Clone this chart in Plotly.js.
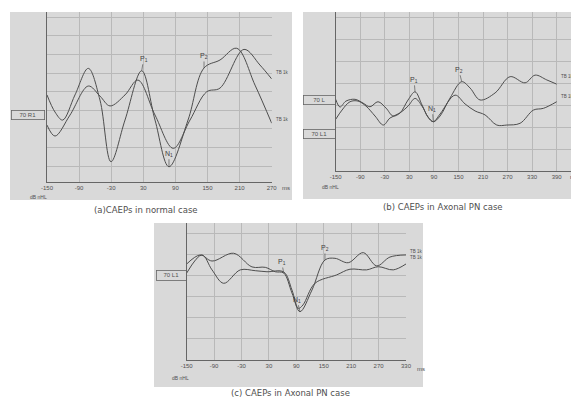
<!DOCTYPE html>
<html><head><meta charset="utf-8">
<script src="https://cdn.plot.ly/plotly-3.0.1.min.js"></script>
<style>html,body{margin:0;padding:0;background:#fff}#chart{width:571px;height:398px}</style>
</head><body><div id="chart"></div>
<script>
// ---- data (latency in ms, amplitude in grid units) ----
const aTicks = [-150,-90,-30,30,90,150,210,270];
const bTicks = [-150,-90,-30,30,90,150,210,270,330,390];
const cTicks = [-150,-90,-30,30,90,150,210,270,330];

const aX1 = [-150,-135,-120.7,-97.7,-72.8,-51,-30.4,-4.2,27,51.9,78,113.6,143.5,173.4,204.6,238.8,270];
const aY1 = [3.82,2.90,2.47,3.82,5.25,3.55,0.23,2.47,5.12,2.47,-0.04,2.47,5.27,5.70,6.33,4.35,2.30];
const aX2 = [-150,-135,-107,-72.8,-51,-32.2,-4.2,20,51.9,86,117.3,148.5,173.4,218.2,248,270];
const aY2 = [2.20,1.61,2.74,4.30,3.76,3.23,3.82,4.62,2.74,0.95,2.47,3.99,4.19,6.27,5.43,4.68];

const bX1 = [-150,-139.5,-124.8,-102.8,-83.3,-66.1,-46.6,-27,-9.9,7.2,26.8,43.9,61,75.7,88.6,105,129.5,158,178.5,202.8,239.5,276.2,312.8,337.3,365.9,390];
const bY1 = [3.26,2.91,3.18,3.26,3.09,2.92,3.15,2.86,2.50,2.64,3.23,3.60,3.0,2.45,2.24,2.5,3.32,4.06,3.77,3.23,3.55,4.29,4.01,4.36,4.14,3.95];
const bX2 = [-150,-134.6,-115,-95.5,-75.9,-53.9,-33.6,-17.2,7.2,26.8,43.9,61,75.7,88.6,105,141.7,166.1,190.6,215,243.6,268.1,300.6,333.1,357.6,390];
const bY2 = [2.35,2.77,3.15,3.18,2.95,2.50,2.09,2.41,2.64,2.95,3.30,2.95,2.45,2.24,2.59,3.45,3.05,2.73,2.55,2.09,2.09,2.17,2.77,2.85,3.15];

const cX1 = [-150,-120.2,-94.6,-47.2,-7.1,22,43.9,62.3,80.4,97.9,124.2,152.6,174.5,203.6,236.4,265.8,294.9,330];
const cY1 = [4.57,5.0,4.71,5.08,4.43,4.41,4.20,4.14,3.19,2.30,3.33,4.76,4.84,4.63,5.11,4.48,4.90,5.0];
const cX2 = [-150,-116.5,-94.6,-69,-32.7,0.1,25.7,62.3,80.4,94.2,104.5,130.7,178.2,207.3,243.9,269.3,302.1,330];
const cY2 = [4.14,5.0,4.29,3.65,4.29,4.25,4.20,4.19,3.33,2.46,2.62,3.65,4.05,4.32,4.29,4.44,4.29,4.57];

const panelLabels = ["70 R1","70 L","70 L1","70 L1"];
const traceLabel = "TB 1k";
const captions = ["(a)CAEPs in normal case","(b) CAEPs in Axonal PN case","(c) CAEPs in Axonal PN case"];
// peak markers: [label, series, index]
const aPeaks = [["P<sub>1</sub>",8],["N<sub>1</sub>",10],["P<sub>2</sub>",12]];
const bPeaks = [["P<sub>1</sub>",11],["N<sub>1</sub>",14],["P<sub>2</sub>",17]];
const cPeaks = [["P<sub>1</sub>",7],["N<sub>1</sub>",9],["P<sub>2</sub>",11]];

// ---- layout helpers ----
const W = 571, H = 398;
const px = x => x / W, py = y => 1 - y / H;
const LINE = '#4d4d4d', GRID = '#b9b9b9', BG = '#d9d9d9', TXT = '#505050';

function trace(x, y, xa, ya) {
  return {x, y, xaxis: xa, yaxis: ya, type: 'scatter', mode: 'lines',
    line: {color: LINE, width: 1, shape: 'spline', smoothing: 1}, hoverinfo: 'skip', showlegend: false};
}
const data = [
  trace(aX1, aY1, 'x', 'y'), trace(aX2, aY2, 'x', 'y'),
  trace(bX1, bY1, 'x2', 'y2'), trace(bX2, bY2, 'x2', 'y2'),
  trace(cX1, cY1, 'x3', 'y3'), trace(cX2, cY2, 'x3', 'y3')
];

function xax(domain, range, ticks) {
  return {domain, range, tickmode: 'array', tickvals: ticks, ticktext: ticks.map(String),
    showgrid: true, gridcolor: GRID, gridwidth: 1, zeroline: false, showline: true,
    linecolor: '#666', linewidth: 1, ticks: '', fixedrange: true,
    tickfont: {family: 'Liberation Sans, Arial, sans-serif', size: 6, color: TXT}};
}
function yax(domain, range, anchor) {
  return {domain, range, dtick: 1, tick0: 0, showgrid: true, gridcolor: GRID, gridwidth: 1,
    zeroline: false, showline: true, linecolor: '#666', linewidth: 1, showticklabels: false,
    ticks: '', anchor, fixedrange: true};
}

const shapes = [
  [10, 12, 292, 200], [303, 12, 571, 199], [154, 223, 423, 387]
].map(([x0, y0, x1, y1]) => ({type: 'rect', xref: 'paper', yref: 'paper', layer: 'below',
  x0: px(x0), x1: px(x1), y0: py(y1), y1: py(y0), fillcolor: BG, line: {width: 0}}));

const ann = [];
function paperText(text, x, y, size, anchor, font) {
  ann.push({text, xref: 'paper', yref: 'paper', x: px(x), y: py(y), xanchor: anchor || 'center',
    yanchor: 'middle', showarrow: false,
    font: {family: font || 'Liberation Sans, Arial, sans-serif', size, color: TXT}});
}
function boxText(text, cx, cy, w, h) {
  ann.push({text, xref: 'paper', yref: 'paper', x: px(cx), y: py(cy), xanchor: 'center', yanchor: 'middle',
    showarrow: false, width: w, height: h, bordercolor: '#666', borderwidth: 0.8, borderpad: 0,
    font: {family: 'Liberation Sans, Arial, sans-serif', size: 6, color: TXT}});
}
function peakLabels(peaks, X, Y, xr, yr, offs) {
  peaks.forEach(([t, i], k) => ann.push({text: t, xref: xr, yref: yr, x: X[i], y: Y[i],
    showarrow: true, arrowhead: 0, arrowwidth: 0.7, arrowcolor: '#555', ax: offs[k][0], ay: offs[k][1],
    standoff: 0, font: {family: 'Liberation Sans, Arial, sans-serif', size: 7, color: '#404040'}}));
}
function endLabel(X, Y, xr, yr, dy) {
  ann.push({text: traceLabel, xref: xr, yref: yr, x: X[X.length - 1], y: Y[Y.length - 1],
    xanchor: 'left', yanchor: 'middle', xshift: 2, yshift: dy, showarrow: false,
    font: {family: 'Liberation Sans, Arial, sans-serif', size: 4.5, color: TXT}});
}

// panel (a)
boxText(panelLabels[0], 28.5, 115.5, 32, 8);
paperText('ms', 280, 188, 6, 'left');
paperText('dB nHL', 28, 197, 5, 'left');
paperText(captions[0], 145.5, 209.5, 8.5, 'center', 'DejaVu Sans, Verdana, sans-serif');
peakLabels(aPeaks, aX1, aY1, 'x', 'y', [[2, -12], [0, -13], [0, -12]]);
endLabel(aX1, aY1, 'x', 'y', 4);
endLabel(aX2, aY2, 'x', 'y', 6);
// panel (b)
boxText(panelLabels[1], 319, 99.5, 31, 8);
boxText(panelLabels[2], 319, 134, 31, 8);
paperText('ms', 568, 177, 6, 'left');
paperText('dB nHL', 320, 187, 5, 'left');
paperText(captions[1], 442.5, 207, 8.5, 'center', 'DejaVu Sans, Verdana, sans-serif');
peakLabels(bPeaks, bX1, bY1, 'x2', 'y2', [[-1, -12], [-1, -13], [-3, -12]]);
endLabel(bX1, bY1, 'x2', 'y2', 8);
endLabel(bX2, bY2, 'x2', 'y2', 5);
// panel (c)
boxText(panelLabels[3], 171, 275, 29, 9);
paperText('ms', 415, 369, 6, 'left');
paperText('dB nHL', 170, 378, 5, 'left');
paperText(captions[2], 290, 392.5, 8.5, 'center', 'DejaVu Sans, Verdana, sans-serif');
peakLabels(cPeaks, cX1, cY1, 'x3', 'y3', [[-2, -11], [-3, -12], [0, -12]]);
endLabel(cX1, cY1, 'x3', 'y3', 3);
endLabel(cX2, cY2, 'x3', 'y3', 6);

const layout = {
  width: W, height: H, margin: {l: 0, r: 0, t: 0, b: 0},
  paper_bgcolor: '#ffffff', plot_bgcolor: 'rgba(0,0,0,0)', showlegend: false,
  xaxis: xax([px(47), px(271.7)], [-150, 270], aTicks),
  yaxis: yax([py(182), py(12)], [-0.86, 8.28], 'x'),
  xaxis2: Object.assign(xax([px(335.7), 1], [-150, 425], bTicks), {anchor: 'y2'}),
  yaxis2: yax([py(171), py(12)], [0, 7.23], 'x2'),
  xaxis3: Object.assign(xax([px(186.7), px(406)], [-150, 330], cTicks), {anchor: 'y3'}),
  yaxis3: yax([py(360), py(223)], [0, 6.52], 'x3'),
  shapes, annotations: ann
};
layout.xaxis.anchor = 'y';
Plotly.newPlot('chart', data, layout, {staticPlot: true, displayModeBar: false});
</script></body></html>
